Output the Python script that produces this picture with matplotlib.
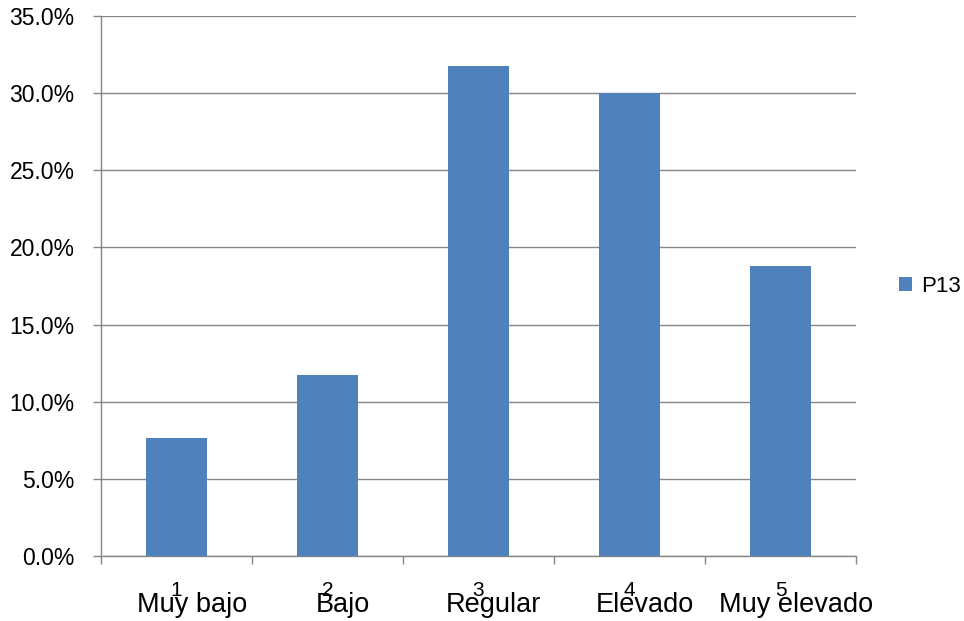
"""
P13 distribution: share of answers per level (1-5), Excel-style bar chart.
Output: out.png
"""
import numpy as np
import matplotlib.pyplot as plt
from matplotlib.ticker import FuncFormatter
import matplotlib.transforms as mtransforms
import matplotlib
matplotlib.rcParams['font.family'] = ['Liberation Sans', 'DejaVu Sans']

# === Data ===
levels = ['1', '2', '3', '4', '5']
level_names = ['Muy bajo', 'Bajo', 'Regular', 'Elevado', 'Muy elevado']
p13_pct = [7.65, 11.75, 31.75, 30.0, 18.8]
series_name = 'P13'

bar_color = '#4F81BD'
grid_color = '#868686'

fig = plt.figure(figsize=(9.64, 6.21), dpi=100)
ax = fig.add_axes([0.1048, 0.1047, 0.888 - 0.1048, 0.9742 - 0.1047])

x = np.arange(len(levels))
ax.bar(x, p13_pct, width=0.4, color=bar_color, label=series_name, zorder=3)

ax.set_xlim(-0.5, len(levels) - 0.5)
ax.set_ylim(0, 35)
ax.set_yticks(np.arange(0, 35.1, 5))
ax.yaxis.set_major_formatter(FuncFormatter(lambda v, _: f'{v:.1f}%'))
ax.yaxis.grid(True, color=grid_color, linewidth=1.0, zorder=0)
ax.tick_params(axis='y', length=6, width=1.0, color=grid_color, labelsize=16.5, pad=13)

# category numbers as major labels, boundaries as minor tick marks
ax.set_xticks(x)
ax.set_xticklabels(levels, fontsize=15)
ax.tick_params(axis='x', which='major', length=0, pad=18)
ax.set_xticks(np.arange(-0.5, len(levels), 1.0), minor=True)
ax.tick_params(axis='x', which='minor', length=6, width=1.0, color=grid_color)

# level names below the numbers (slightly shifted, as in the original)
trans = ax.get_xaxis_transform() + mtransforms.ScaledTranslation(11 / 72, -35 / 72, fig.dpi_scale_trans)
for xi, name in zip(x, level_names):
    ax.text(xi, 0, name, transform=trans, ha='center', va='center', fontsize=19.5)

for s in ['top', 'right']:
    ax.spines[s].set_visible(False)
for s in ['left', 'bottom']:
    ax.spines[s].set_color(grid_color)
    ax.spines[s].set_linewidth(1.0)

ax.legend(loc='center left', bbox_to_anchor=(1.03, 0.5), frameon=False, fontsize=16,
          handlelength=0.6, handleheight=0.6, handletextpad=0.4)

fig.savefig('out.png', dpi=100, facecolor='white')
plt.close()
